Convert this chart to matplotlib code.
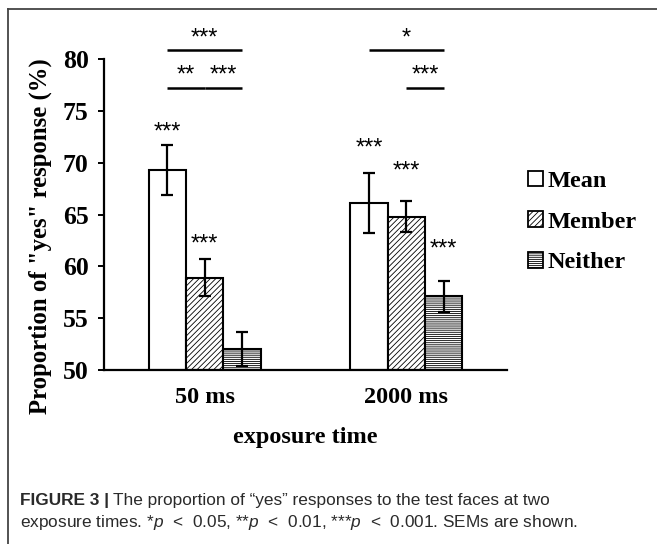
import matplotlib

matplotlib.use('Agg')
import matplotlib.pyplot as plt  # noqa: E402
import numpy as np  # noqa: E402
from matplotlib.lines import Line2D  # noqa: E402
from matplotlib.patches import Patch  # noqa: E402

# --- data ---
categories = ['50 ms', '2000 ms']
series = ['Mean', 'Member', 'Neither']
mean_vals = [69.3, 66.1]
mean_sem = [2.4, 2.9]
member_vals = [58.9, 64.8]
member_sem = [1.8, 1.5]
neither_vals = [52.05, 57.1]
neither_sem = [1.65, 1.5]

# stars over single bars: (group, series index, y)
bar_stars = [(0, 0, 73.4, '***'), (0, 1, 62.6, '***'),
             (1, 0, 71.9, '***'), (1, 1, 69.6, '***'), (1, 2, 62.1, '***')]
# pairwise brackets: (group, from series, to series, line y, text y, label)
brackets = [(0, 0, 2, 80.9, 82.5, '***'), (0, 0, 1, 77.2, 78.9, '**'),
            (0, 1, 2, 77.2, 78.9, '***'), (1, 0, 2, 80.9, 82.5, '*'),
            (1, 1, 2, 77.2, 78.9, '***')]

serif = 'Liberation Serif'
sans = 'Liberation Sans'
plt.rcParams['mathtext.fontset'] = 'custom'
plt.rcParams['mathtext.it'] = 'Liberation Sans:italic'
plt.rcParams['mathtext.rm'] = 'Liberation Sans'
plt.rcParams['hatch.linewidth'] = 0.6

fig = plt.figure(figsize=(6.57, 5.44), dpi=100)
ax = fig.add_axes([104 / 657, 174 / 544, 403 / 657, 311 / 544])

x = np.arange(len(categories))
w = 0.185
offsets = [-w, 0.0, w]
hatches = [None, '//////', '--------']
vals = [mean_vals, member_vals, neither_vals]
sems = [mean_sem, member_sem, neither_sem]

for i in range(3):
    ax.bar(x + offsets[i], np.array(vals[i]) - 50, w, bottom=50,
           color='white', edgecolor='black', linewidth=1.5,
           hatch=hatches[i], zorder=2)
    ax.errorbar(x + offsets[i], vals[i], yerr=sems[i], fmt='none',
                ecolor='black', elinewidth=1.6, capsize=4.5, capthick=1.6,
                zorder=3)

star_kw = dict(ha='center', va='center', fontsize=17, family=sans,
               clip_on=False)
for g, s, yv, lab in bar_stars:
    ax.text(x[g] + offsets[s], yv - 0.5, lab, **star_kw)

for g, s0, s1, ly, ty, lab in brackets:
    x0 = x[g] + offsets[s0]
    x1 = x[g] + offsets[s1]
    ax.plot([x0, x1], [ly, ly], color='black', lw=1.8, clip_on=False,
            solid_capstyle='butt')
    ax.text((x0 + x1) / 2, ty - 0.5, lab, **star_kw)

ax.set_xlim(-0.5, 1.5)
ax.set_ylim(50, 80)
ax.set_yticks([50, 55, 60, 65, 70, 75, 80])
ax.set_xticks(x)
ax.set_xticklabels(categories)
for sp in ('top', 'right'):
    ax.spines[sp].set_visible(False)
for sp in ('left', 'bottom'):
    ax.spines[sp].set_linewidth(1.6)
ax.tick_params(axis='y', direction='out', length=4, width=1.4, pad=7)
ax.tick_params(axis='x', length=0, pad=12)
for lab in ax.get_xticklabels():
    lab.set_fontfamily(serif)
    lab.set_fontweight('bold')
    lab.set_fontsize(17.5)
for lab in ax.get_yticklabels():
    lab.set_fontfamily(serif)
    lab.set_fontweight('bold')
    lab.set_fontsize(18.5)

fig.text(305 / 657, 1 - 437 / 544, 'exposure time', ha='center', va='center',
         family=serif, fontweight='bold', fontsize=17.5)
fig.text(40 / 657, 1 - 236 / 544, 'Proportion of "yes" response (%)',
         ha='center', va='center', rotation=90,
         family=serif, fontweight='bold', fontsize=17.8)

handles = [Patch(facecolor='white', edgecolor='black', linewidth=1.3,
                 hatch=h) for h in hatches]
leg = ax.legend(handles, series, loc='center left',
                bbox_to_anchor=(528 / 657, 1 - 222 / 544),
                bbox_transform=fig.transFigure, frameon=False,
                handlelength=0.6, handleheight=0.6, handletextpad=0.2,
                labelspacing=0.8, borderpad=0, borderaxespad=0,
                prop={'family': serif, 'weight': 'bold', 'size': 17.5})

# outer frame (top + left only)
fig.add_artist(Line2D([7.5 / 657, 1], [1 - 8.5 / 544, 1 - 8.5 / 544],
                      color='#444444', lw=1.3))
fig.add_artist(Line2D([7.5 / 657, 7.5 / 657], [0, 1 - 8.5 / 544],
                      color='#444444', lw=1.3))

# caption
cap_col = '#2a2a2a'
cap_size = 12.4
fig.canvas.draw()
r = fig.canvas.get_renderer()
t1 = fig.text(20 / 657, 1 - 500 / 544, 'FIGURE 3 |', ha='left', va='center',
              family=sans, fontweight='bold', fontsize=cap_size, color=cap_col)
bb = t1.get_window_extent(r)
fig.text(bb.x1 / fig.bbox.width + 4 / 657, 1 - 500 / 544,
         'The proportion of \u201cyes\u201d responses to the test faces at two',
         ha='left', va='center', family=sans, fontsize=cap_size, color=cap_col)
fig.text(20 / 657, 1 - 523 / 544,
         r'exposure times. *$\mathit{p}$  <  0.05, **$\mathit{p}$  <  0.01, '
         r'***$\mathit{p}$  <  0.001. SEMs are shown.',
         ha='left', va='center', family=sans, fontsize=cap_size, color=cap_col)

fig.savefig('out.png', dpi=100)
